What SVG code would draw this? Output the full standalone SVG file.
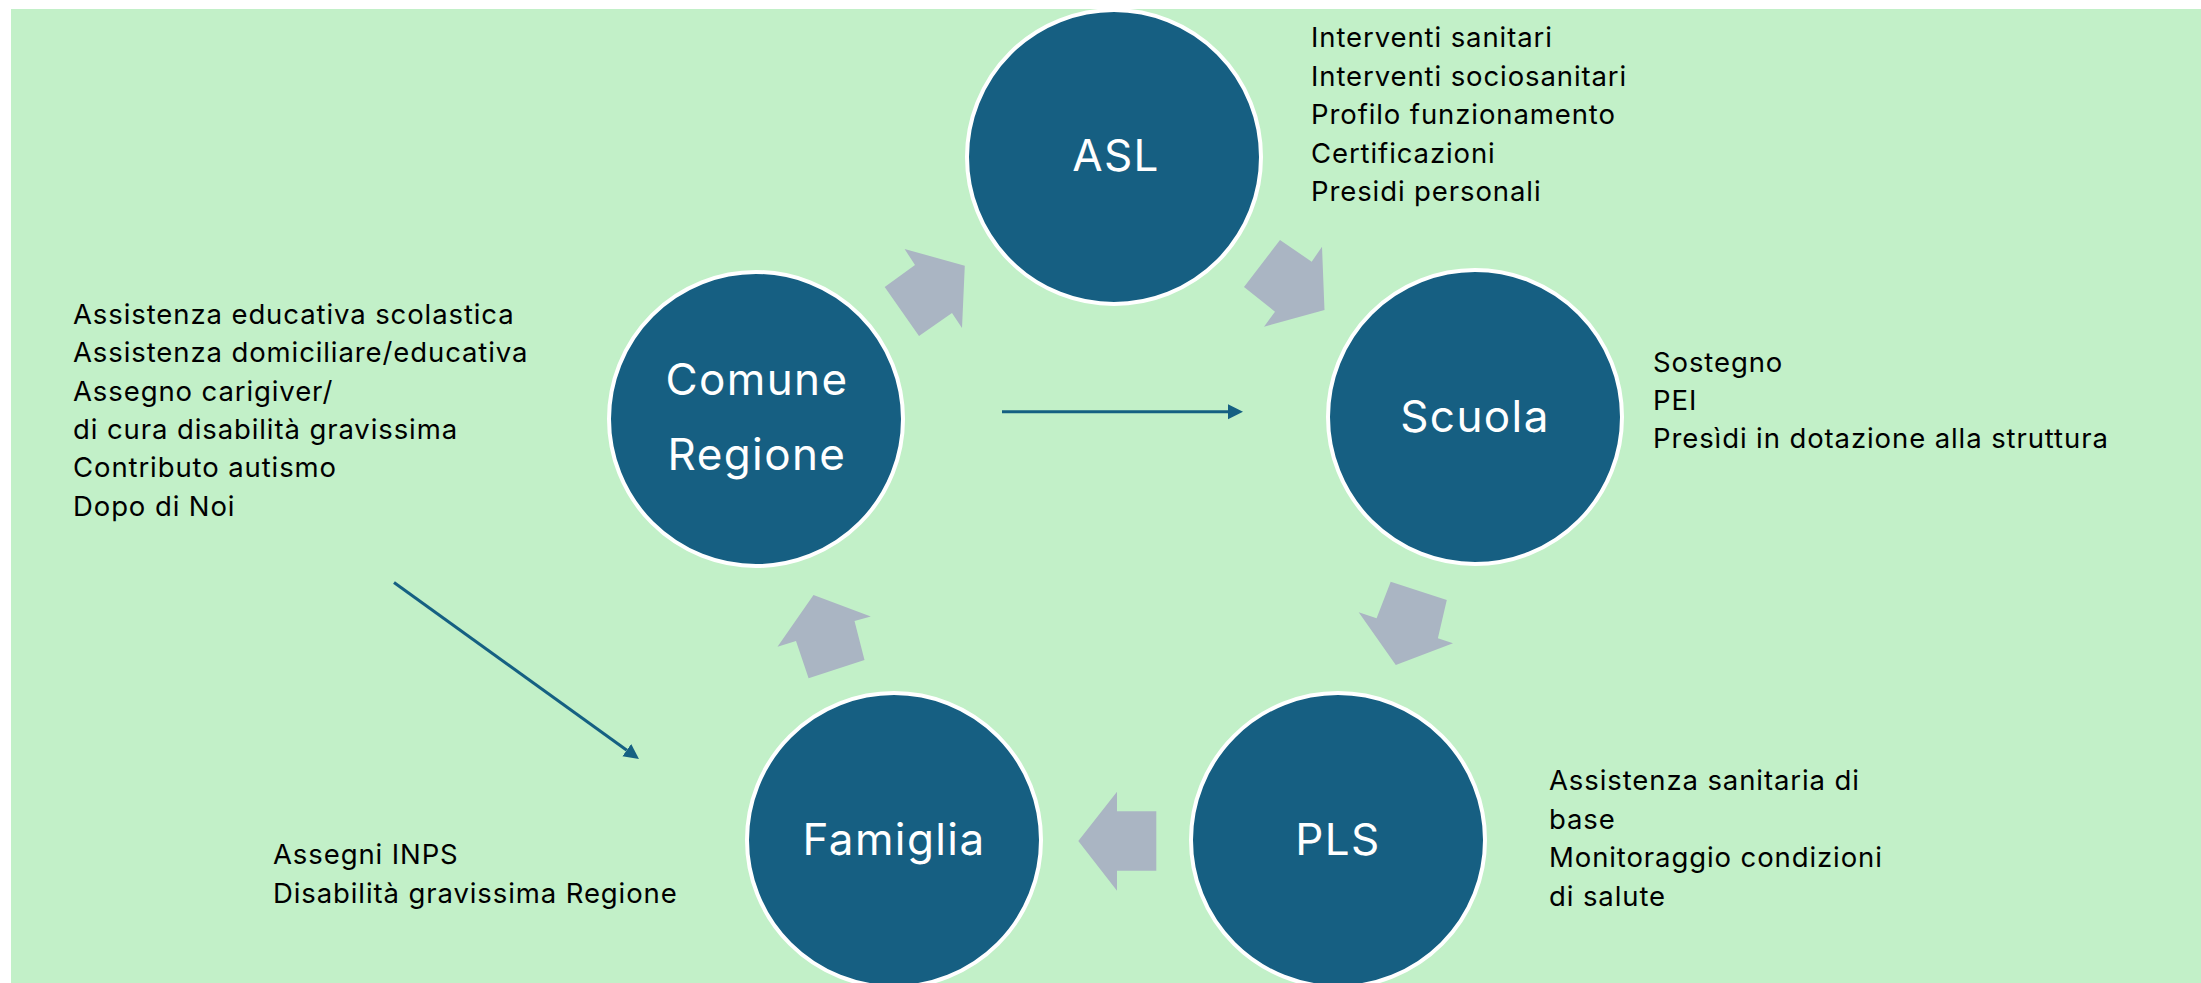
<svg xmlns="http://www.w3.org/2000/svg" width="2201" height="983" viewBox="0 0 2201 983">
<defs>
<style>
.node circle{fill:#165F82;stroke:#FFFFFF;stroke-width:4}
.lbl{font-family:Inter,"Noto Sans","Liberation Sans",sans-serif;font-size:44px;fill:#FFFFFF;text-anchor:middle;letter-spacing:1.4px}
.note{font-family:Inter,"Noto Sans","Liberation Sans",sans-serif;font-size:27.5px;fill:#000000;letter-spacing:0.9px}
.flow{fill:#AAB5C3}
.conn{stroke:#156082;stroke-width:3;fill:none}
</style>
<marker id="ah" markerUnits="userSpaceOnUse" markerWidth="16" markerHeight="16" refX="0" refY="7.5" orient="auto">
<path d="M0,0 L15,7.5 L0,15 Z" fill="#156082"/>
</marker>
</defs>
<rect x="0" y="0" width="2201" height="983" fill="#FFFFFF"/>
<rect x="11" y="9" width="2190" height="974" fill="#C2F0C8"/>

<g id="flow-arrows">
<polygon class="flow" points="919,336 884.7,287 915,265 904.6,249 964.8,265.7 962,328 952,313"/>
<polygon class="flow" points="1280,240 1311.7,261.7 1322,246.7 1324.5,310 1264,326.7 1275,311.7 1244,287"/>
<polygon class="flow" points="1390.7,581.7 1446.8,600 1437.9,638.3 1453,643.3 1395.8,665 1358.7,612.3 1376.6,618.3"/>
<polygon class="flow" points="1156.3,811.3 1117,811.3 1117,791.7 1078.3,841 1117,890.7 1117,870.7 1156.3,870.7"/>
<polygon class="flow" points="813.5,595 870.8,616.5 854.5,621 864.5,660 808.6,678.2 796,641 777.5,646.7"/>
</g>

<g id="connectors">
<line class="conn" x1="1002" y1="411.7" x2="1228" y2="411.7" marker-end="url(#ah)"/>
<line class="conn" x1="394" y1="582.5" x2="626.8" y2="750.2" marker-end="url(#ah)"/>
</g>

<g id="node-asl" class="node">
<circle cx="1114" cy="157" r="147"/>
<text class="lbl" x="1116" y="171">ASL</text>
</g>
<g id="node-scuola" class="node">
<circle cx="1475" cy="417" r="147"/>
<text class="lbl" x="1475" y="432">Scuola</text>
</g>
<g id="node-comune" class="node">
<circle cx="756" cy="419" r="147"/>
<text class="lbl" x="757" y="395">Comune</text>
<text class="lbl" x="757" y="470">Regione</text>
</g>
<g id="node-famiglia" class="node">
<circle cx="894" cy="840" r="147"/>
<text class="lbl" x="894" y="855">Famiglia</text>
</g>
<g id="node-pls" class="node">
<circle cx="1338" cy="840" r="147"/>
<text class="lbl" x="1338" y="855">PLS</text>
</g>

<g id="notes-asl">
<text class="note" x="1311" y="46.7">Interventi sanitari</text>
<text class="note" x="1311" y="85.5">Interventi sociosanitari</text>
<text class="note" x="1311" y="124">Profilo funzionamento</text>
<text class="note" x="1311" y="162.7">Certificazioni</text>
<text class="note" x="1311" y="201">Presidi personali</text>
</g>
<g id="notes-scuola">
<text class="note" x="1653" y="371.7">Sostegno</text>
<text class="note" x="1653" y="410">PEI</text>
<text class="note" x="1653" y="448.3">Presìdi in dotazione alla struttura</text>
</g>
<g id="notes-comune">
<text class="note" x="73" y="324">Assistenza educativa scolastica</text>
<text class="note" x="73" y="362.3">Assistenza domiciliare/educativa</text>
<text class="note" x="73" y="400.7">Assegno carigiver/</text>
<text class="note" x="73" y="439">di cura disabilità gravissima</text>
<text class="note" x="73" y="477.3">Contributo autismo</text>
<text class="note" x="73" y="515.7">Dopo di Noi</text>
</g>
<g id="notes-pls">
<text class="note" x="1549" y="790">Assistenza sanitaria di</text>
<text class="note" x="1549" y="828.5">base</text>
<text class="note" x="1549" y="867">Monitoraggio condizioni</text>
<text class="note" x="1549" y="906">di salute</text>
</g>
<g id="notes-famiglia">
<text class="note" x="273" y="864">Assegni INPS</text>
<text class="note" x="273" y="902.7">Disabilità gravissima Regione</text>
</g>
</svg>
